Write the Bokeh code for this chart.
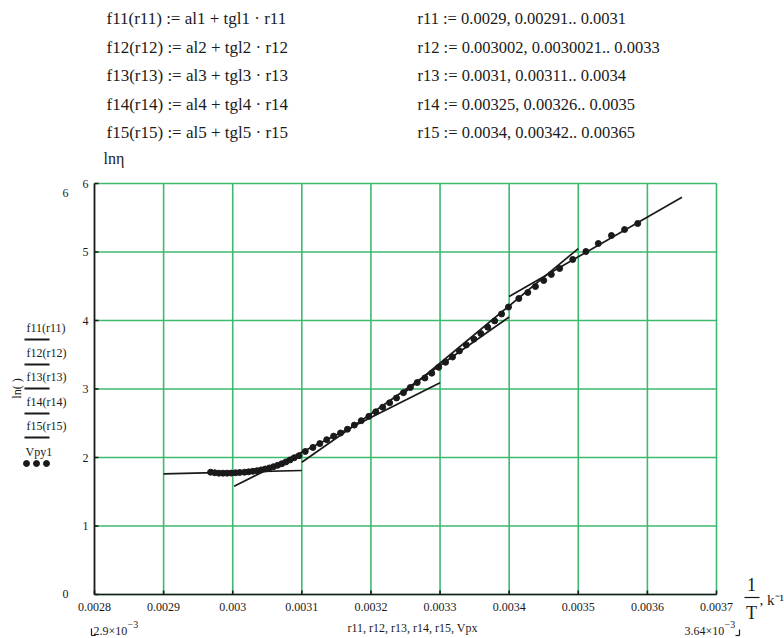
import math
from bokeh.plotting import figure
from bokeh.models import Range1d
from bokeh.core.properties import value
from bokeh.embed import file_html
from bokeh.resources import INLINE

# ---------------- data ----------------
x_ticks = [0.0028, 0.0029, 0.003, 0.0031, 0.0032, 0.0033, 0.0034, 0.0035, 0.0036, 0.0037]
x_tick_labels = ["0.0028", "0.0029", "0.003", "0.0031", "0.0032", "0.0033", "0.0034", "0.0035", "0.0036", "0.0037"]
y_ticks = [0, 1, 2, 3, 4, 5, 6]
y_tick_labels = ["", "1", "2", "3", "4", "5", "6"]
x_lim = [0.0028, 0.0037]
y_lim = [0, 6]

# measured points (1/T, ln eta)
vpx = [0.002968, 0.002974, 0.002980, 0.002986, 0.002992, 0.002998, 0.003004, 0.003010,
       0.003017, 0.003023, 0.003029, 0.003035, 0.003041, 0.003047, 0.003053, 0.003059,
       0.003065, 0.003071, 0.003077, 0.003083, 0.003089, 0.003096,
       0.003105, 0.003116, 0.003126, 0.003136, 0.003146, 0.003156, 0.003166, 0.003176,
       0.003186, 0.003197, 0.003207, 0.003217, 0.003227, 0.003237, 0.003247, 0.003257,
       0.003267, 0.003278, 0.003288, 0.003298, 0.003308, 0.003318, 0.003328, 0.003338,
       0.003349, 0.003359, 0.003369, 0.003379, 0.003389, 0.003399,
       0.003414, 0.003427, 0.003438, 0.003450, 0.003461, 0.003473, 0.003492, 0.003511,
       0.003529, 0.003548, 0.003567, 0.003586]
vpy1 = [1.785, 1.777, 1.771, 1.771, 1.771, 1.772, 1.777, 1.781,
        1.785, 1.791, 1.799, 1.807, 1.819, 1.832, 1.847, 1.866,
        1.886, 1.909, 1.936, 1.965, 1.996, 2.026,
        2.088, 2.147, 2.203, 2.260, 2.312, 2.358, 2.413, 2.473,
        2.537, 2.601, 2.667, 2.734, 2.799, 2.869, 2.946, 3.022,
        3.095, 3.161, 3.231, 3.317, 3.390, 3.467, 3.556, 3.644,
        3.728, 3.810, 3.902, 3.994, 4.095, 4.197,
        4.321, 4.409, 4.496, 4.584, 4.672, 4.759, 4.891, 5.007,
        5.124, 5.241, 5.328, 5.416]

# fitted lines f = a + tg * r on ranges r_start..r_end
line_names = ["f11(r11)", "f12(r12)", "f13(r13)", "f14(r14)", "f15(r15)"]
a_coef = [1.035, -13.631, -19.977, -24.21, -15.37]
tg_coef = [250.0, 5067.0, 7067.0, 8360.0, 5800.0]
r_start = [0.0029, 0.003002, 0.0031, 0.00325, 0.0034]
r_end = [0.0031, 0.0033, 0.0034, 0.0035, 0.00365]

header_left = ["f11(r11) := al1 + tgl1 · r11",
               "f12(r12) := al2 + tgl2 · r12",
               "f13(r13) := al3 + tgl3 · r13",
               "f14(r14) := al4 + tgl4 · r14",
               "f15(r15) := al5 + tgl5 · r15"]
header_right = ["r11 := 0.0029, 0.00291.. 0.0031",
                "r12 := 0.003002, 0.0030021.. 0.0033",
                "r13 := 0.0031, 0.00311.. 0.0034",
                "r14 := 0.00325, 0.00326.. 0.0035",
                "r15 := 0.0034, 0.00342.. 0.00365"]

# ---------------- layout helpers (pixel -> data) ----------------
FONT = value("Liberation Serif")
INK = "#1a1a1a"
GRID = "#3dba6e"
W, H = 784, 638
PX0, PX1 = 94, 716      # pixel columns of x_lim
PY0, PY1 = 594, 183     # pixel rows of y_lim
sx = (x_lim[1] - x_lim[0]) / (PX1 - PX0)
sy = (y_lim[1] - y_lim[0]) / (PY0 - PY1)


def X(px):
    return x_lim[0] + (px - PX0) * sx


def Y(py):
    return y_lim[0] + (PY0 - py) * sy


p = figure(width=W, height=H, x_range=Range1d(X(0), X(W)), y_range=Range1d(Y(H), Y(0)),
           output_backend="svg", toolbar_location=None,
           x_axis_location=None, y_axis_location=None,
           min_border=0, min_border_left=0, min_border_right=0,
           min_border_top=0, min_border_bottom=0)
p.outline_line_color = None
p.grid.visible = False
p.background_fill_color = "white"
p.border_fill_color = "white"


def text(px, py, s, size=12, align="left", angle=0.0, base="middle"):
    p.text(x=[X(px)], y=[Y(py)], text=[s], text_font=FONT, text_font_size=value(f"{size}px"),
           text_color=INK, text_align=align, text_baseline=base, angle=angle)


def seg(px0, py0, px1, py1, w=1.6, color=INK):
    p.segment(x0=[X(px0)], y0=[Y(py0)], x1=[X(px1)], y1=[Y(py1)], line_color=color, line_width=w)


# grid
p.segment(x0=x_ticks, y0=[y_lim[0]] * len(x_ticks), x1=x_ticks, y1=[y_lim[1]] * len(x_ticks),
          line_color=GRID, line_width=1.6)
p.segment(x0=[x_lim[0]] * len(y_ticks), y0=y_ticks, x1=[x_lim[1]] * len(y_ticks), y1=y_ticks,
          line_color=GRID, line_width=1.6)

# axes
p.segment(x0=[x_lim[0], x_lim[0]], y0=[y_lim[0], y_lim[0]], x1=[x_lim[1], x_lim[0]], y1=[y_lim[0], y_lim[1]],
          line_color=INK, line_width=1.6)
p.ray(x=x_ticks, y=[y_lim[0]] * len(x_ticks), length=4, length_units="screen", angle=math.pi / 2,
      line_color=INK, line_width=1.6)
p.ray(x=[x_lim[0]] * len(y_ticks), y=y_ticks, length=4, length_units="screen", angle=0,
      line_color=INK, line_width=1.6)
p.text(x=x_ticks, y=[y_lim[0]] * len(x_ticks), text=x_tick_labels, y_offset=12,
       text_font=FONT, text_font_size=value("12px"), text_color=INK,
       text_align="center", text_baseline="middle")
p.text(x=[x_lim[0]] * len(y_ticks), y=y_ticks, text=y_tick_labels, x_offset=-6,
       text_font=FONT, text_font_size=value("12px"), text_color=INK,
       text_align="right", text_baseline="middle")

# fitted lines and data
for a, tg, r0, r1 in zip(a_coef, tg_coef, r_start, r_end):
    p.line([r0, r1], [a + tg * r0, a + tg * r1], line_color=INK, line_width=1.7)
p.scatter(vpx, vpy1, size=6, fill_color=INK, line_color=INK)

# header
rows = [18, 46.5, 75, 103.5, 132]
for py, s1, s2 in zip(rows, header_left, header_right):
    text(106, py, s1, size=17)
    text(417, py, s2, size=16.5)

text(103, 158, "lnη", size=16)

# axis titles and limit labels
text(412, 627, "r11, r12, r13, r14, r15, Vpx", size=12, align="center")
text(65, 192, "6", size=12, align="center")
text(65, 593, "0", size=12, align="center")
text(93, 630, "2.9×10", size=12)
text(127, 624, "−3", size=10)
text(684, 630, "3.64×10", size=12)
text(724, 624, "−3", size=10)
seg(91, 628, 91, 635, 1.2)
seg(91, 635, 95, 635, 1.2)
seg(739, 629, 739, 635, 1.2)
seg(735, 635, 739, 635, 1.2)

text(751, 584, "1", size=18, align="center")
seg(744, 597, 759, 597, 1.2)
text(751, 612, "T", size=18, align="center")
text(759, 599, ", k⁻¹", size=15)

text(16, 388, "ln( )", size=12, align="center", angle=math.pi / 2)

# legend
leg_rows = [327, 352, 376, 401, 425]
for py, name in zip(leg_rows, line_names):
    text(26, py, name, size=12)
    seg(24, py + 12, 49, py + 12, 2.2)
text(25, 451, "Vpy1", size=12)
p.scatter([X(26), X(36), X(46)], [Y(463)] * 3, size=6, fill_color=INK, line_color=INK)

with open("out.html", "w") as f:
    f.write(file_html(p, INLINE))
